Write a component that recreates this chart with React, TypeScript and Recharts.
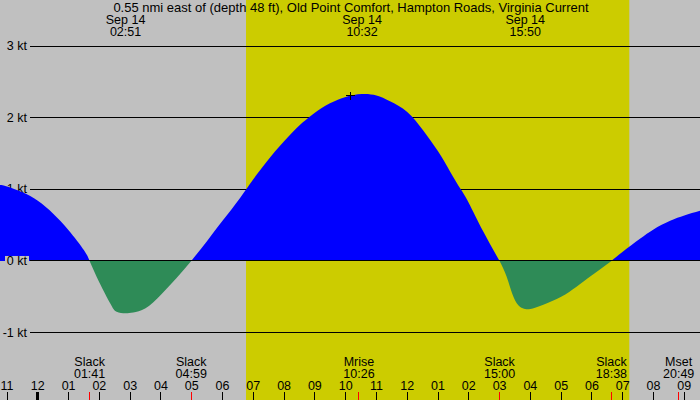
import {
  ComposedChart,
  Area,
  XAxis,
  YAxis,
  ReferenceArea,
  ReferenceLine,
  ReferenceDot,
} from 'recharts';

// hours relative to midnight Sep 14 (negative = Sep 13 evening)
const HOURS = [
  -1.228, -1, -0.5, 0, 0.5, 1, 1.5, 1.683, 2, 2.35, 2.56, 2.85, 3.1, 3.5, 4, 4.5, 4.983,
  5.5, 6, 6.57, 7, 7.44, 8, 8.52, 8.79, 9, 9.49, 10, 10.53, 11, 11.44, 12, 12.52, 13, 13.39,
  13.74, 14, 14.47, 15, 15.23, 15.45, 15.66, 15.83, 16, 16.42, 17, 17.5, 18, 18.633, 19, 19.56,
  20, 20.54, 21, 21.51,
];
// current speed in knots (flood positive, ebb negative)
const KNOTS = [
  1.06, 1.04, 0.96, 0.84, 0.66, 0.43, 0.15, 0, -0.3, -0.59, -0.71, -0.73, -0.72, -0.66, -0.47,
  -0.24, 0, 0.28, 0.56, 0.88, 1.14, 1.39, 1.67, 1.9, 2.0, 2.07, 2.2, 2.29, 2.33, 2.31, 2.23,
  2.08, 1.82, 1.53, 1.25, 1.0, 0.81, 0.41, 0, -0.22, -0.5, -0.64, -0.67, -0.67, -0.61, -0.5,
  -0.36, -0.2, 0, 0.13, 0.31, 0.44, 0.56, 0.635, 0.7,
];

const HOUR_TICKS = [-1, 0, 1, 2, 3, 4, 5, 6, 7, 8, 9, 10, 11, 12, 13, 14, 15, 16, 17, 18, 19, 20, 21];
const KT_TICKS = [-1, 1, 2, 3];

const EVENT_HOURS = [1.683, 4.983, 10.433, 15.0, 18.633, 20.817];
const EVENT_NAMES = ['Slack', 'Slack', 'Mrise', 'Slack', 'Slack', 'Mset'];
const EVENT_TIMES = ['01:41', '04:59', '10:26', '15:00', '18:38', '20:49'];

const PEAK_HOURS = [2.85, 10.533, 15.833];
const PEAK_DATES = ['Sep 14', 'Sep 14', 'Sep 14'];
const PEAK_TIMES = ['02:51', '10:32', '15:50'];

const SUNRISE = 6.763;
const SUNSET = 19.214;
const MARK = { hour: 10.16, kt: 2.305 };

const X_DOMAIN = [-1.228, 21.51];
const Y_DOMAIN = [-1.94, 3.642];

const TITLE = '0.55 nmi east of (depth 48 ft), Old Point Comfort, Hampton Roads, Virginia Current';
const FONT = '"Liberation Sans", Arial, sans-serif';
const FS = 12.5;

const data = HOURS.map((hour, i) => ({
  hour,
  flood: KNOTS[i] >= 0 ? KNOTS[i] : null,
  ebb: KNOTS[i] <= 0 ? KNOTS[i] : null,
}));

const hourLabel = (h: number) => String(((h % 12) + 12) % 12 || 12).padStart(2, '0');

const Label = ({ x, y, children, anchor = 'middle' }: any) => (
  <text x={x} y={y} textAnchor={anchor} fontSize={FS} fontFamily={FONT} fill="#000">
    {children}
  </text>
);

const HourTick = ({ x, payload }: any) => (
  <g>
    <Label x={x} y={389.5}>{hourLabel(payload.value)}</Label>
    <line
      x1={x} x2={x} y1={392} y2={400}
      stroke="#000" strokeWidth={payload.value === 0 ? 3 : 1} shapeRendering="crispEdges"
    />
  </g>
);

const EventTick = ({ x, payload }: any) => {
  const i = EVENT_HOURS.indexOf(payload.value);
  return (
    <g>
      <Label x={x} y={366}>{EVENT_NAMES[i]}</Label>
      <Label x={x} y={378}>{EVENT_TIMES[i]}</Label>
      <line x1={x} x2={x} y1={392} y2={400} stroke="#ff0000" strokeWidth={1} shapeRendering="crispEdges" />
    </g>
  );
};

const PeakTick = ({ x, payload }: any) => {
  const i = PEAK_HOURS.indexOf(payload.value);
  return (
    <g>
      <Label x={x} y={24}>{PEAK_DATES[i]}</Label>
      <Label x={x} y={36}>{PEAK_TIMES[i]}</Label>
    </g>
  );
};

const GridLine = ({ x1, x2, y1, value, boxed }: any) => (
  <g>
    <line x1={x1 + 30} x2={x2} y1={y1} y2={y1} stroke="#000" strokeWidth={1} shapeRendering="crispEdges" />
    {boxed && <rect x={x1 + 5} y={y1 - 5} width={24} height={10} fill="#c0c0c0" />}
    <Label x={x1 + 27} y={y1 + 4} anchor="end">{`${value} kt`}</Label>
  </g>
);

const Cross = ({ cx, cy }: any) => (
  <g stroke="#000" strokeWidth={1} shapeRendering="crispEdges">
    <line x1={cx - 4.5} x2={cx + 4.5} y1={cy} y2={cy} />
    <line x1={cx} x2={cx} y1={cy - 4} y2={cy + 4} />
  </g>
);

export default function App() {
  return (
    <div style={{ position: 'absolute', left: 0, top: 0, width: 700, height: 400, background: '#c0c0c0' }}>
      <ComposedChart width={700} height={400} data={data} margin={{ top: 0, right: 0, bottom: 0, left: 0 }}>
        <YAxis type="number" domain={Y_DOMAIN} allowDataOverflow hide width={0} />
        <XAxis dataKey="hour" type="number" domain={X_DOMAIN} allowDataOverflow hide />
        <ReferenceArea
          x1={SUNRISE} x2={SUNSET} fill="#cccc00" fillOpacity={1} stroke="none" zIndex={-300}
        />
        {KT_TICKS.map((v) => (
          <ReferenceLine key={v} y={v} zIndex={-200} shape={(p: any) => <GridLine {...p} value={v} />} />
        ))}
        <Area
          dataKey="flood" type="natural" baseValue={0} fill="#0000ff" fillOpacity={1}
          stroke="none" dot={false} activeDot={false} isAnimationActive={false}
        />
        <Area
          dataKey="ebb" type="natural" baseValue={0} fill="#2e8b57" fillOpacity={1}
          stroke="none" dot={false} activeDot={false} isAnimationActive={false}
        />
        <ReferenceLine y={0} zIndex={300} shape={(p: any) => <GridLine {...p} value={0} boxed />} />
        <ReferenceDot x={MARK.hour} y={MARK.kt} zIndex={310} shape={<Cross />} />
        <XAxis
          xAxisId="hours" dataKey="hour" type="number" domain={X_DOMAIN} allowDataOverflow mirror
          ticks={HOUR_TICKS} interval={0} axisLine={false} tickLine={false}
          tick={<HourTick />}
        />
        <XAxis
          xAxisId="events" dataKey="hour" type="number" domain={X_DOMAIN} allowDataOverflow mirror
          ticks={EVENT_HOURS} interval={0} axisLine={false} tickLine={false}
          tick={<EventTick />}
        />
        <XAxis
          xAxisId="peaks" dataKey="hour" orientation="top" type="number" domain={X_DOMAIN}
          allowDataOverflow mirror ticks={PEAK_HOURS} interval={0} axisLine={false} tickLine={false}
          tick={<PeakTick />}
        />
      </ComposedChart>
      <svg width={700} height={400} style={{ position: 'absolute', left: 0, top: 0, pointerEvents: 'none' }}>
        <text x={351} y={11.5} textAnchor="middle" fontSize={13} fontFamily={FONT} fill="#000">
          {TITLE}
        </text>
      </svg>
    </div>
  );
}
